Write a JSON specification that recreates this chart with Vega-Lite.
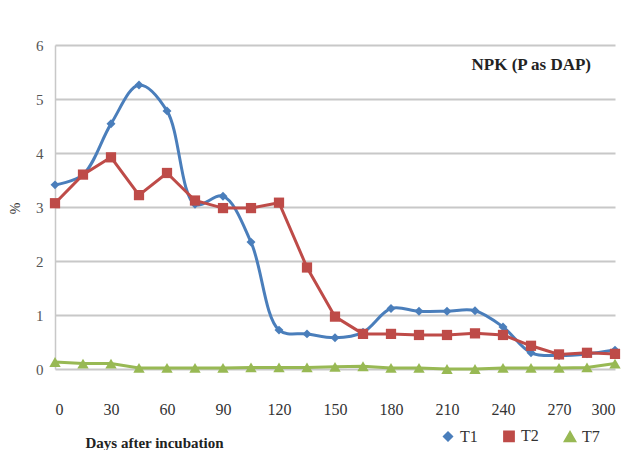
{
  "$schema": "https://vega.github.io/schema/vega-lite/v6.json",
  "width": 560,
  "height": 324,
  "autosize": {"type": "none"},
  "padding": {"left": 55, "top": 45, "right": 27, "bottom": 81},
  "background": "white",
  "config": {"view": {"stroke": null}, "font": "Liberation Serif"},
  "title": {"text": "NPK (P as DAP)", "anchor": "end", "orient": "top", "offset": -36, "dx": -30, "fontSize": 17, "fontWeight": "bold", "font": "Liberation Serif", "color": "#222"},
  "data": {"values": [
    {"day": 0, "s": "T1", "v": 3.41}, {"day": 15, "s": "T1", "v": 3.6}, {"day": 30, "s": "T1", "v": 4.54}, {"day": 45, "s": "T1", "v": 5.26}, {"day": 60, "s": "T1", "v": 4.78}, {"day": 75, "s": "T1", "v": 3.05}, {"day": 90, "s": "T1", "v": 3.2}, {"day": 105, "s": "T1", "v": 2.35}, {"day": 120, "s": "T1", "v": 0.72}, {"day": 135, "s": "T1", "v": 0.65}, {"day": 150, "s": "T1", "v": 0.58}, {"day": 165, "s": "T1", "v": 0.68}, {"day": 180, "s": "T1", "v": 1.12}, {"day": 195, "s": "T1", "v": 1.07}, {"day": 210, "s": "T1", "v": 1.07}, {"day": 225, "s": "T1", "v": 1.08}, {"day": 240, "s": "T1", "v": 0.78}, {"day": 255, "s": "T1", "v": 0.3}, {"day": 270, "s": "T1", "v": 0.25}, {"day": 285, "s": "T1", "v": 0.28}, {"day": 300, "s": "T1", "v": 0.35},
    {"day": 0, "s": "T2", "v": 3.07}, {"day": 15, "s": "T2", "v": 3.6}, {"day": 30, "s": "T2", "v": 3.92}, {"day": 45, "s": "T2", "v": 3.22}, {"day": 60, "s": "T2", "v": 3.63}, {"day": 75, "s": "T2", "v": 3.12}, {"day": 90, "s": "T2", "v": 2.98}, {"day": 105, "s": "T2", "v": 2.98}, {"day": 120, "s": "T2", "v": 3.08}, {"day": 135, "s": "T2", "v": 1.88}, {"day": 150, "s": "T2", "v": 0.97}, {"day": 165, "s": "T2", "v": 0.65}, {"day": 180, "s": "T2", "v": 0.65}, {"day": 195, "s": "T2", "v": 0.63}, {"day": 210, "s": "T2", "v": 0.63}, {"day": 225, "s": "T2", "v": 0.66}, {"day": 240, "s": "T2", "v": 0.63}, {"day": 255, "s": "T2", "v": 0.43}, {"day": 270, "s": "T2", "v": 0.27}, {"day": 285, "s": "T2", "v": 0.3}, {"day": 300, "s": "T2", "v": 0.28},
    {"day": 0, "s": "T7", "v": 0.13}, {"day": 15, "s": "T7", "v": 0.1}, {"day": 30, "s": "T7", "v": 0.1}, {"day": 45, "s": "T7", "v": 0.02}, {"day": 60, "s": "T7", "v": 0.02}, {"day": 75, "s": "T7", "v": 0.02}, {"day": 90, "s": "T7", "v": 0.02}, {"day": 105, "s": "T7", "v": 0.03}, {"day": 120, "s": "T7", "v": 0.03}, {"day": 135, "s": "T7", "v": 0.03}, {"day": 150, "s": "T7", "v": 0.04}, {"day": 165, "s": "T7", "v": 0.05}, {"day": 180, "s": "T7", "v": 0.02}, {"day": 195, "s": "T7", "v": 0.02}, {"day": 210, "s": "T7", "v": 0.0}, {"day": 225, "s": "T7", "v": 0.0}, {"day": 240, "s": "T7", "v": 0.02}, {"day": 255, "s": "T7", "v": 0.02}, {"day": 270, "s": "T7", "v": 0.02}, {"day": 285, "s": "T7", "v": 0.03}, {"day": 300, "s": "T7", "v": 0.1}
  ]},
  "encoding": {
    "x": {"field": "day", "type": "quantitative", "scale": {"domain": [0, 300], "nice": false},
      "axis": {"values": [0, 30, 60, 90, 120, 150, 180, 210, 240, 270, 300], "grid": false, "domain": false, "ticks": false, "labelPadding": 32, "labelFontSize": 16, "labelColor": "#333", "labelFont": "Liberation Serif",
        "title": "Days after incubation", "titleFont": "Liberation Serif", "titleFontSize": 15, "titleFontWeight": "bold", "titleColor": "#222", "titleAnchor": "start", "titleAlign": "left", "titleX": 30, "titleY": 78, "titleBaseline": "alphabetic"}},
    "y": {"field": "v", "type": "quantitative", "scale": {"domain": [0, 6], "nice": false},
      "axis": {"values": [0, 1, 2, 3, 4, 5, 6], "grid": true, "gridColor": "#c8c8c8", "gridWidth": 2, "domain": true, "domainColor": "#c8c8c8", "domainWidth": 1.5, "ticks": false, "labelPadding": 12, "labelFontSize": 15, "labelColor": "#555", "labelFont": "Liberation Serif",
        "title": "%", "titleFont": "Liberation Serif", "titleFontSize": 14, "titleColor": "#333", "titleFontWeight": "normal", "titleX": -33, "titleY": 163, "titleAngle": -90}},
    "color": {"field": "s", "type": "nominal", "scale": {"domain": ["T1", "T2", "T7"], "range": ["#4a7ebb", "#be4b48", "#98b954"]},
      "legend": {"title": null, "orient": "none", "direction": "horizontal", "legendX": 385, "legendY": 383, "labelFont": "Liberation Serif", "labelFontSize": 16, "labelColor": "#333", "symbolSize": 110, "columnPadding": 22, "labelOffset": 4}}
  },
  "layer": [
    {"transform": [{"filter": "datum.s === 'T1'"}], "mark": {"type": "line", "interpolate": "catmull-rom", "strokeWidth": 3}},
    {"transform": [{"filter": "datum.s === 'T2'"}], "mark": {"type": "line", "interpolate": "linear", "strokeWidth": 3}},
    {"transform": [{"filter": "datum.s === 'T7'"}], "mark": {"type": "line", "interpolate": "linear", "strokeWidth": 3}},
    {"mark": {"type": "point", "filled": true, "opacity": 1},
      "encoding": {
        "shape": {"field": "s", "type": "nominal", "scale": {"domain": ["T1", "T2", "T7"], "range": ["diamond", "square", "triangle-up"]}},
        "size": {"field": "s", "type": "nominal", "scale": {"domain": ["T1", "T2", "T7"], "range": [80, 130, 80]}, "legend": null}
      }}
  ]
}
